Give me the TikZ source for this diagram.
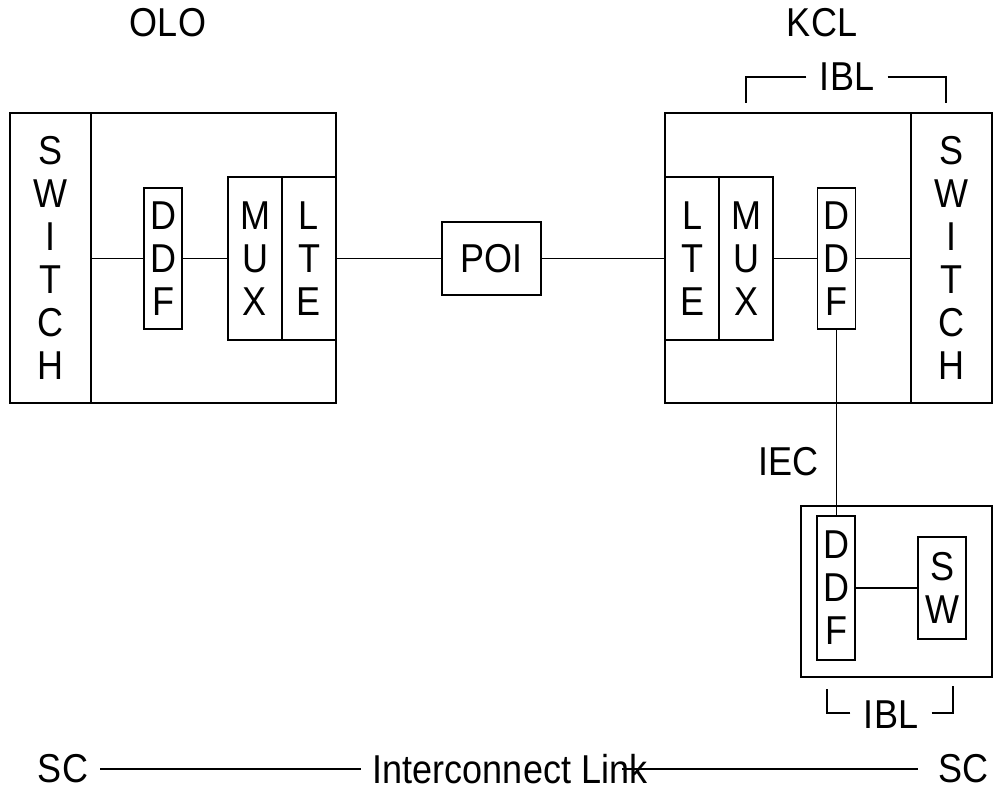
\documentclass[tikz,border=0pt]{standalone}
\usepackage{fontspec}
\usepackage{graphicx}
\setmainfont{Liberation Sans}
\newcommand\lblfont{\fontsize{27}{28.8}\selectfont}
\newcommand\st[1]{\scalebox{1}[1.12]{\vbox{\halign{\hfil##\hfil\cr#1\crcr}}}}
\begin{document}
\begin{tikzpicture}[x=0.75pt,y=-0.75pt,
  box/.style={draw, rectangle, inner sep=0pt, line width=1.3pt, font=\lblfont},
  lbl/.style={inner sep=0pt, font=\lblfont},
  conn/.style={line width=1.2pt}]
\fill[white] (0,0) rectangle (994,792);
\useasboundingbox (0,0) rectangle (994,792);

% titles
\node[lbl] (olo) at (168,23) {\st{OLO}};
\node[lbl] (kcl) at (822,23) {\st{KCL}};

% OLO side
\node[box, minimum width=244.5pt, minimum height=217.5pt] (oloframe) at (173,258) {};
\node[box, minimum width=60.75pt, minimum height=217.5pt] (oswitch) at (50.5,258) {\st{S\cr W\cr I\cr T\cr C\cr H}};
\node[box, minimum width=28.5pt, minimum height=105.75pt] (oddf) at (163,258.5) {\st{D\cr D\cr F}};
\node[box, minimum width=40.5pt, minimum height=122.25pt] (omux) at (255,258.5) {\st{M\cr U\cr X}};
\node[box, minimum width=40.5pt, minimum height=122.25pt] (olte) at (309,258.5) {\st{L\cr T\cr E}};

% POI
\node[box, minimum width=74.25pt, minimum height=54.75pt] (poi) at (491.5,258.5) {\st{POI}};

% KCL side
\node[box, minimum width=245.25pt, minimum height=217.5pt] (kclframe) at (828.5,258) {};
\node[box, minimum width=40.5pt, minimum height=122.25pt] (klte) at (692,258.5) {\st{L\cr T\cr E}};
\node[box, minimum width=40.5pt, minimum height=122.25pt] (kmux) at (746,258.5) {\st{M\cr U\cr X}};
\node[box, minimum width=28.5pt, minimum height=105.75pt] (kddf) at (836.5,258.5) {\st{D\cr D\cr F}};
\node[box, minimum width=60.75pt, minimum height=217.5pt] (kswitch) at (951.5,258) {\st{S\cr W\cr I\cr T\cr C\cr H}};

% IBL top bracket
\node[lbl, inner xsep=10pt] (ibltop) at (847,77) {\st{IBL}};
\coordinate (ibltl) at (746,103);
\coordinate (ibltr) at (946,103);
\draw[conn] (ibltop.west) -| (ibltl);
\draw[conn] (ibltop.east) -| (ibltr);

% horizontal links
\draw[conn] (oswitch.east |- oddf.west) -- (oddf.west);
\draw[conn] (oddf.east) -- (omux.west);
\draw[conn] (olte.east) -- (poi.west);
\draw[conn] (poi.east) -- (klte.west);
\draw[conn] (kmux.east) -- (kddf.west);
\draw[conn] (kddf.east) -- (kddf.east -| kswitch.west);

% remote building
\node[box, minimum width=143.25pt, minimum height=128.25pt] (remote) at (896.5,591.5) {};
\node[box, minimum width=28.5pt, minimum height=108pt] (bddf) at (836,588) {\st{D\cr D\cr F}};
\node[box, minimum width=36pt, minimum height=76.5pt] (sw) at (942,588) {\st{S\cr W}};
\draw[conn] (bddf.east) -- (sw.west);
\draw[conn] (kddf.south) -- (kddf.south |- bddf.north);
\node[lbl] (iec) at (788,462) {\st{IEC}};

% IBL bottom bracket
\node[lbl, inner xsep=10pt] (iblbot) at (891,715) {\st{IBL}};
\coordinate (iblbl) at (827,689);
\coordinate (iblbr) at (953,686);
\draw[conn] (iblbot.west |- 0,713) -| (iblbl);
\draw[conn] (iblbot.east |- 0,713) -| (iblbr);

% interconnect link
\node[lbl, inner xsep=9pt] (scl) at (63,769) {\st{SC}};
\node[lbl, inner xsep=9pt] (link) at (510,769) {\st{Interconnect Link}};
\node[lbl, inner xsep=15pt] (scr) at (963,769) {\st{SC}};
\coordinate (linkr) at (622,769);
\draw[conn] (scl.east) -- (link.west);
\draw[conn] (linkr) -- (scr.west);
\end{tikzpicture}
\end{document}
